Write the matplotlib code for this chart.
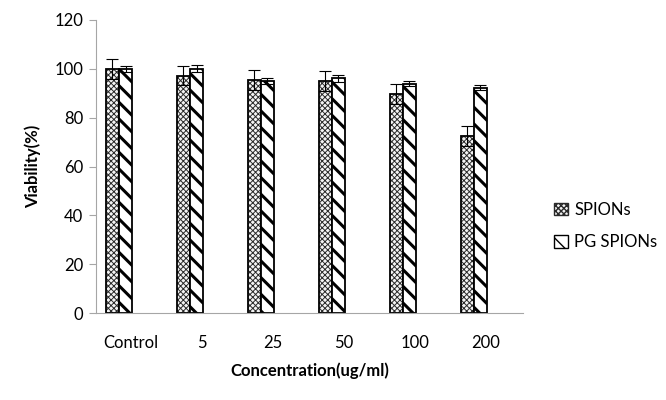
import numpy as np
import matplotlib as mpl
import matplotlib.pyplot as plt
from matplotlib.patches import Patch

plt.rcParams['font.family'] = ['Lato', 'DejaVu Sans']

# données
categories = ['Control', '5', '25', '50', '100', '200']
spions = [100.0, 97.2, 95.5, 95.1, 89.7, 72.4]
spions_err = [4.0, 4.0, 4.0, 4.0, 4.0, 4.0]
pg_spions = [100.0, 100.0, 94.9, 96.1, 93.9, 92.3]
pg_err = [1.3, 1.4, 1.2, 1.4, 1.1, 1.1]

x = np.arange(len(categories))
w = 0.185


def hatch_lw(artists, lw):
    for a in artists:
        if hasattr(a, 'set_hatch_linewidth'):
            a.set_hatch_linewidth(lw)


fig = plt.figure(figsize=(6.66, 4), dpi=100)
ax = fig.add_axes([0.144, 0.2175, 0.641, 0.7325])

# SPIONs : motif quadrillé
with mpl.rc_context({'hatch.linewidth': 0.7}):
    b1 = ax.bar(x - w / 2, spions, w, color='#f4f4f4', edgecolor='#2a2a2a',
                hatch='xxxxxx', linewidth=0)
    h1 = Patch(facecolor='#f4f4f4', edgecolor='#2a2a2a', hatch='xxxxxx', linewidth=1)
hatch_lw(b1, 0.7)
hatch_lw([h1], 0.7)
ax.bar(x - w / 2, spions, w, fill=False, edgecolor='black', linewidth=1.3)
ax.errorbar(x - w / 2, spions, yerr=spions_err, fmt='none', ecolor='black',
            elinewidth=0.8, capsize=4, capthick=0.8)

# PG SPIONs : rayures diagonales
with mpl.rc_context({'hatch.linewidth': 2.2}):
    b2 = ax.bar(x + w / 2, pg_spions, w, color='white', edgecolor='black',
                hatch='\\\\', linewidth=0)
    h2 = Patch(facecolor='white', edgecolor='black', hatch='\\\\', linewidth=1)
hatch_lw(b2, 2.2)
hatch_lw([h2], 2.2)
ax.bar(x + w / 2, pg_spions, w, fill=False, edgecolor='black', linewidth=1.3)
ax.errorbar(x + w / 2, pg_spions, yerr=pg_err, fmt='none', ecolor='black',
            elinewidth=0.8, capsize=4, capthick=0.8)

ax.set_xlim(-0.325, 5.69)
ax.set_ylim(0, 120)
ax.set_yticks(range(0, 121, 20))
ax.set_xticks(x + 0.17)
ax.set_xticklabels(categories)
ax.tick_params(axis='x', length=0, labelsize=12, pad=16)
ax.tick_params(axis='y', length=5, color='#a6a6a6', labelsize=12, pad=4)

for s in ['top', 'right']:
    ax.spines[s].set_visible(False)
for s in ['left', 'bottom']:
    ax.spines[s].set_color('#a6a6a6')

ax.set_ylabel('Viability(%)', fontsize=12, fontweight='bold', labelpad=10)
ax.set_xlabel('Concentration(ug/ml)', fontsize=12, fontweight='bold', labelpad=8)

fig.legend([h1, h2], ['SPIONs', 'PG SPIONs'], loc='center left',
           bbox_to_anchor=(0.81, 0.435), frameon=False, fontsize=12,
           handlelength=0.8, handleheight=0.8, handletextpad=0.4,
           labelspacing=1.0)

fig.savefig('out.png', dpi=100)
